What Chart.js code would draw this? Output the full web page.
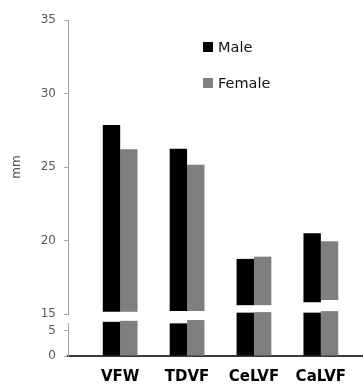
<!DOCTYPE html>
<html><head><meta charset="utf-8">
<script src="https://cdn.jsdelivr.net/npm/chart.js@4/dist/chart.umd.min.js"></script>
<style>
html,body{margin:0;padding:0;background:#fff;}
#wrap{position:relative;width:363px;height:387px;overflow:hidden;background:#fff;}
#cUp{position:absolute;left:0;top:0;}
#cLo{position:absolute;left:0;top:300px;}
.lg{position:absolute;left:203px;height:17px;line-height:17px;font-family:"DejaVu Sans";font-size:14.5px;color:#111;display:flex;align-items:center;white-space:nowrap;}
.lg i{display:inline-block;width:10px;height:10px;margin-right:5px;}
</style></head>
<body><div id="wrap">
<canvas id="cUp" width="363" height="330"></canvas>
<canvas id="cLo" width="363" height="87"></canvas>
<div id="legend"></div>
</div>
<script>
// ---- data ----
const categories = ['VFW', 'TDVF', 'CeLVF', 'CaLVF'];
const seriesNames = ['Male', 'Female'];
const seriesColors = ['#000000', '#7f7f7f'];
// top of each bar (mm)
const maleTop = [27.85, 26.25, 18.75, 20.5];
const femaleTop = [26.2, 25.15, 18.9, 19.95];
// where the upper segment of each broken bar starts
const maleUpperStart = [15.15, 15.2, 15.6, 15.8];
const femaleUpperStart = [15.15, 15.2, 15.6, 15.95];
// height of the lower segment of each broken bar
const maleLowerTop = [6.7, 6.4, 8.5, 8.5];
const femaleLowerTop = [6.9, 7.05, 8.6, 8.8];
// tick labels
const upperTicks = [15, 20, 25, 30, 35];
const lowerTicks = [0, 5];

// ---- chart setup ----
const X_MIN = -0.78, X_MAX = 3.63;
const tickFont = {family: 'DejaVu Sans', size: 12};
const axisGray = '#a6a6a6';

function upperData(starts, tops) { return categories.map((c, i) => ({x: i, y: [starts[i], tops[i]]})); }
function lowerData(tops) { return categories.map((c, i) => ({x: i, y: tops[i]})); }

function barDs(idx, data, extra) {
  return Object.assign({
    label: seriesNames[idx], data: data, backgroundColor: seriesColors[idx],
    borderWidth: 0, categoryPercentage: 0.52, barPercentage: 1
  }, extra || {});
}

function yAxis(min, max, ticksArr, extra) {
  return Object.assign({
    min: min, max: max,
    afterFit: s => { s.width = 68; },
    afterBuildTicks: s => { s.ticks = ticksArr.map(v => ({value: v})); },
    ticks: {color: '#595959', font: tickFont, padding: 8},
    grid: {drawOnChartArea: false, drawTicks: true, tickLength: 4, color: axisGray},
    border: {color: axisGray, width: 1}
  }, extra || {});
}

function xAxis(extra) {
  return Object.assign({
    type: 'linear', min: X_MIN, max: X_MAX, offset: false,
    afterBuildTicks: s => { s.ticks = categories.map((c, i) => ({value: i})); }
  }, extra || {});
}

new Chart(document.getElementById('cUp'), {
  type: 'bar',
  data: {datasets: [
    barDs(0, upperData(maleUpperStart, maleTop)),
    barDs(1, upperData(femaleUpperStart, femaleTop))
  ]},
  options: {
    responsive: false, animation: false, devicePixelRatio: 1,
    layout: {padding: {top: 20, bottom: 16, left: 0, right: 0}},
    plugins: {legend: {display: false}, tooltip: {enabled: false}},
    scales: {
      x: xAxis({display: false}),
      y: yAxis(15, 35, upperTicks, {
        title: {display: true, text: 'mm', color: '#595959', font: tickFont, padding: {top: 10, bottom: 0}}
      })
    }
  }
});

new Chart(document.getElementById('cLo'), {
  type: 'bar',
  data: {datasets: [
    barDs(0, lowerData(maleLowerTop), {clip: false}),
    barDs(1, lowerData(femaleLowerTop), {clip: false})
  ]},
  options: {
    responsive: false, animation: false, devicePixelRatio: 1,
    layout: {padding: {top: 23, bottom: 0, left: 0, right: 0}},
    plugins: {legend: {display: false}, tooltip: {enabled: false}},
    scales: {
      x: xAxis({
        afterFit: s => { s.height = 31; },
        ticks: {callback: v => categories[v], color: '#000', autoSkip: false, maxRotation: 0,
                font: {family: 'DejaVu Sans', size: 15, weight: 'bold'}, padding: 12},
        grid: {drawOnChartArea: false, drawTicks: false, tickLength: 0, color: 'rgba(0,0,0,0)'},
        border: {color: '#3a3a3a', width: 2}
      }),
      y: yAxis(0, 6.47, lowerTicks)
    }
  }
});

// legend (real text)
const lg = document.getElementById('legend');
const legendTops = [38.5, 74.5];
seriesNames.forEach((n, i) => {
  const d = document.createElement('div');
  d.className = 'lg';
  d.style.top = legendTops[i] + 'px';
  const sw = document.createElement('i');
  sw.style.background = seriesColors[i];
  d.appendChild(sw);
  d.appendChild(document.createTextNode(n));
  lg.appendChild(d);
});
</script>
</body></html>
